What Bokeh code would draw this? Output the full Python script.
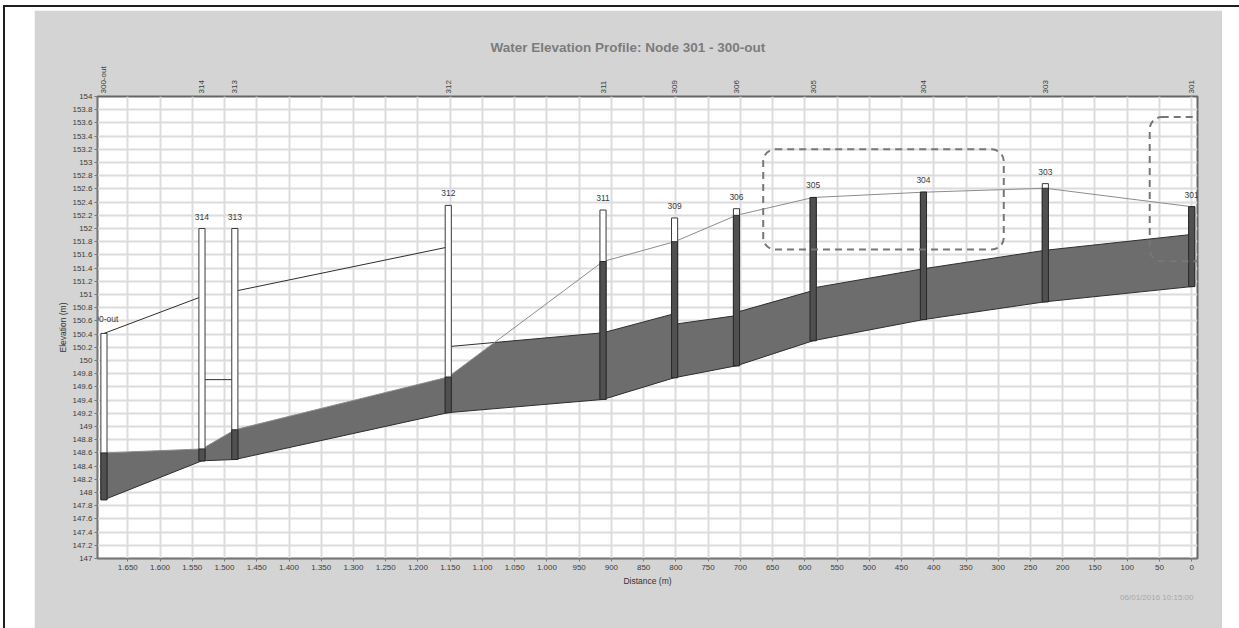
import math

from bokeh.core.properties import value
from bokeh.embed import file_html
from bokeh.layouts import column
from bokeh.models import FixedTicker, Label, LinearAxis, Range1d, Title
from bokeh.plotting import figure
from bokeh.resources import INLINE

# ---- nodes (distance measured upstream from node 301) ----
node_names = ["300-out", "314", "313", "312", "311", "309", "306", "305", "304", "303", "301"]
node_dist = [1687, 1535, 1484, 1153, 913, 802, 706, 587, 416, 227, 0]
node_invert = [147.89, 148.48, 148.50, 149.21, 149.41, 149.74, 149.92, 150.30, 150.62, 150.89, 151.12]
node_rim = [150.41, 152.00, 152.00, 152.35, 152.28, 152.16, 152.30, 152.47, 152.55, 152.68, 152.33]
node_water = [148.60, 148.66, 148.95, 149.75, 151.50, 151.80, 152.20, 152.47, 152.55, 152.61, 152.33]

# ---- conduits between consecutive nodes (start = left node, end = right node) ----
link_inv_start = [147.89, 148.48, 148.50, 149.21, 149.41, 149.74, 149.92, 150.30, 150.62, 150.89]
link_inv_end = [148.48, 148.50, 149.21, 149.41, 149.74, 149.92, 150.30, 150.62, 150.89, 151.12]
link_crown_start = [150.41, 149.71, 151.05, 150.21, 150.42, 150.55, 150.73, 151.10, 151.39, 151.67]
link_crown_end = [150.97, 149.71, 151.72, 150.42, 150.71, 150.68, 151.06, 151.39, 151.67, 151.91]

# ---- highlighted regions (distance left, distance right, elevation top, elevation bottom) ----
mark_left = [664, 64]
mark_right = [292, -37]
mark_top = [153.18, 153.67]
mark_bottom = [151.70, 151.52]

# ---- axes ----
x_ticks = list(range(0, 1700, 50))
x_tick_labels = {t: f"{t:,}".replace(",", ".") for t in x_ticks}
y_ticks = [round(147 + 0.2 * i, 1) for i in range(36)]
y_tick_labels = {t: f"{t:g}" for t in y_ticks}

title_text = "Water Elevation Profile:  Node 301 - 300-out"
stamp_text = "06/01/2016 10:15:00"

FONT = "Liberation Sans"
PANEL = "#d4d4d4"

X0, X1 = 1697, -9
Y0, Y1 = 147, 154
BL, BR, BT, BB = 63, 25, 86, 70
FW, FH = 1100, 462
PX_PER_M = FW / (X0 - X1)
PX_PER_ELEV = FH / (Y1 - Y0)

p = figure(
    width=BL + FW + BR, height=BT + FH + BB,
    x_range=Range1d(X0, X1), y_range=Range1d(Y0, Y1),
    output_backend="svg", toolbar_location=None,
    min_border_left=BL, min_border_right=BR, min_border_top=BT, min_border_bottom=BB,
    border_fill_color=PANEL, background_fill_color="white",
    outline_line_color="#666666", outline_line_width=2,
    margin=(3, 0, 0, 29),
)


def canvas_x(d):
    return BL + (X0 - d) * PX_PER_M


def canvas_y(e):
    return BT + (Y1 - e) * PX_PER_ELEV


# bottom distance axis
xa = p.xaxis[0]
xa.ticker = FixedTicker(ticks=x_ticks)
xa.major_label_overrides = x_tick_labels
xa.axis_label = "Distance (m)"

# left elevation axis
ya = p.yaxis[0]
ya.ticker = FixedTicker(ticks=y_ticks)
ya.major_label_overrides = y_tick_labels
ya.axis_label = "Elevation (m)"

for ax in (xa, ya):
    ax.axis_line_color = "#777777"
    ax.major_tick_out = 3
    ax.major_tick_in = 0
    ax.minor_tick_out = 0
    ax.minor_tick_in = 0
    ax.major_tick_line_color = "#777777"
    ax.major_label_text_font = FONT
    ax.major_label_text_font_size = "8px"
    ax.major_label_text_color = "#3c3c3c"
    ax.axis_label_text_font = FONT
    ax.axis_label_text_font_size = "8.5px"
    ax.axis_label_text_font_style = "normal"
    ax.axis_label_text_color = "#333333"
xa.major_label_standoff = 3
xa.axis_label_standoff = 3
ya.major_label_standoff = 2
ya.axis_label_standoff = 1

# node names along the top
top = LinearAxis(
    ticker=FixedTicker(ticks=node_dist),
    major_label_overrides=dict(zip(node_dist, node_names)),
    major_label_orientation=math.pi / 2,
    major_label_text_font=FONT, major_label_text_font_size="8px",
    major_label_text_color="#3c3c3c", major_label_standoff=3,
    axis_line_color=None, major_tick_out=0, major_tick_in=0,
    minor_tick_out=0, minor_tick_in=0,
)
p.add_layout(top, "above")

# grid
p.xgrid.ticker = FixedTicker(ticks=x_ticks)
for g in (p.xgrid, p.ygrid):
    g.grid_line_color = "#dcdcdc"
    g.grid_line_width = 2

# titles
p.add_layout(Title(text=title_text, align="left", text_font=FONT, text_font_size="13.5px",
                   text_font_style="bold", text_color="#7c7c7c", standoff=17, offset=393), "above")
p.add_layout(Title(text=stamp_text, align="right", text_font=FONT, text_font_size="8px",
                   text_font_style="normal", text_color="#a8a8a8", standoff=4, offset=4), "below")

# ---- conduit water: between invert and min(water level, crown) ----
fill_xs, fill_ys = [], []
for i in range(len(link_inv_start)):
    x0, x1 = node_dist[i], node_dist[i + 1]
    h0, h1 = node_water[i], node_water[i + 1]
    c0, c1 = link_crown_start[i], link_crown_end[i]
    f0, f1 = h0 - c0, h1 - c1
    tx, ty = [x0], [min(h0, c0)]
    if f0 * f1 < 0:
        t = f0 / (f0 - f1)
        tx.append(x0 + t * (x1 - x0))
        ty.append(c0 + t * (c1 - c0))
    tx.append(x1)
    ty.append(min(h1, c1))
    fill_xs.append(tx + [x1, x0])
    fill_ys.append(ty + [link_inv_end[i], link_inv_start[i]])

p.patches(fill_xs, fill_ys, fill_color="#6d6d6d", line_color=None)

seg_x = [[node_dist[i], node_dist[i + 1]] for i in range(len(link_inv_start))]
p.multi_line(seg_x, [[a, b] for a, b in zip(link_crown_start, link_crown_end)],
             line_color="#2e2e2e", line_width=1)
p.multi_line(seg_x, [[a, b] for a, b in zip(link_inv_start, link_inv_end)],
             line_color="#2e2e2e", line_width=1)

# hydraulic grade line
p.line(node_dist, node_water, line_color="#8c8c8c", line_width=1)

# manholes: empty shaft, then water column
p.vbar(x=node_dist, bottom=node_invert, top=node_rim, width=9.5,
       fill_color="white", line_color="#3a3a3a", line_width=1)
p.vbar(x=node_dist, bottom=node_invert, top=node_water, width=9.5,
       fill_color="#505050", line_color="#2a2a2a", line_width=1)

p.text(x=node_dist, y=node_rim, text=node_names, y_offset=-9,
       text_align="center", text_baseline="bottom",
       text_font=value(FONT), text_font_size="8.5px", text_color="#3a3a3a")

# dashed rounded highlight boxes, drawn as framed blank labels placed in
# canvas units so they may run past the edge of the frame
for l, r, t, b in zip(mark_left, mark_right, mark_top, mark_bottom):
    half_w = round((l - r) * PX_PER_M / 2)
    half_h = round((t - b) * PX_PER_ELEV / 2)
    p.add_layout(Label(
        x=canvas_x((l + r) / 2), y=canvas_y((t + b) / 2),
        x_units="canvas", y_units="canvas",
        text=" ", anchor="center", text_align="center", text_baseline="middle",
        text_font_size="2px", text_color="#777777",
        padding=(half_w, half_w, half_h, half_h),
        border_line_color="#777777", border_line_width=2, border_line_dash="7 5",
        border_radius=12, level="annotation"))

page = column(p, margin=(5, 0, 0, 3),
              styles={"border-top": "2px solid #1e1e1e", "border-left": "2px solid #1e1e1e",
                      "background-color": "white", "width": "1236px"})

open("out.html", "w").write(file_html(page, INLINE))
